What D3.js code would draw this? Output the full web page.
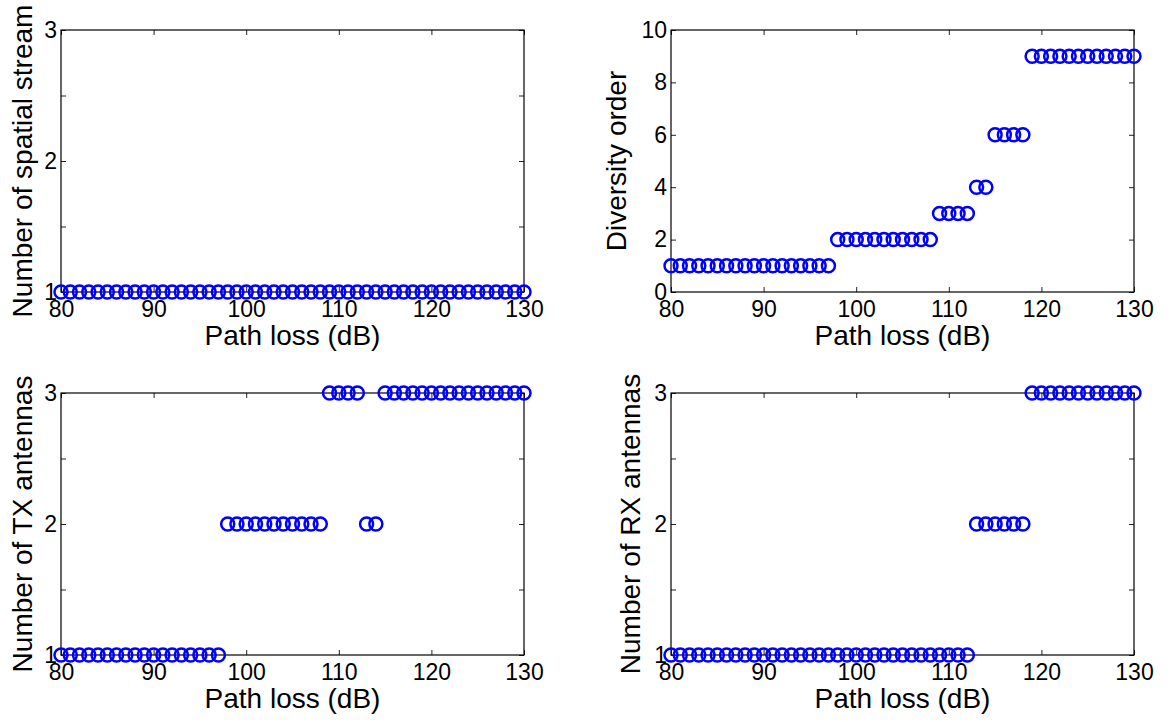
<!DOCTYPE html>
<html>
<head>
<meta charset="utf-8">
<script src="https://cdn.jsdelivr.net/npm/d3@7"></script>
<style>
  body { margin: 0; background: #fff; overflow: hidden; }
  text { font-family: "Liberation Sans", Arial, Helvetica, sans-serif; fill: #000; }
</style>
</head>
<body>
<script>
// path loss values (dB), one sample per dB
const pathLoss = [80, 81, 82, 83, 84, 85, 86, 87, 88, 89,
  90, 91, 92, 93, 94, 95, 96, 97, 98, 99,
  100, 101, 102, 103, 104, 105, 106, 107, 108, 109,
  110, 111, 112, 113, 114, 115, 116, 117, 118, 119,
  120, 121, 122, 123, 124, 125, 126, 127, 128, 129, 130];

const spatialStreams = [1, 1, 1, 1, 1, 1, 1, 1, 1, 1,
  1, 1, 1, 1, 1, 1, 1, 1, 1, 1,
  1, 1, 1, 1, 1, 1, 1, 1, 1, 1,
  1, 1, 1, 1, 1, 1, 1, 1, 1, 1,
  1, 1, 1, 1, 1, 1, 1, 1, 1, 1, 1];

const diversityOrder = [1, 1, 1, 1, 1, 1, 1, 1, 1, 1,
  1, 1, 1, 1, 1, 1, 1, 1, 2, 2,
  2, 2, 2, 2, 2, 2, 2, 2, 2, 3,
  3, 3, 3, 4, 4, 6, 6, 6, 6, 9,
  9, 9, 9, 9, 9, 9, 9, 9, 9, 9, 9];

const txAntennas = [1, 1, 1, 1, 1, 1, 1, 1, 1, 1,
  1, 1, 1, 1, 1, 1, 1, 1, 2, 2,
  2, 2, 2, 2, 2, 2, 2, 2, 2, 3,
  3, 3, 3, 2, 2, 3, 3, 3, 3, 3,
  3, 3, 3, 3, 3, 3, 3, 3, 3, 3, 3];

const rxAntennas = [1, 1, 1, 1, 1, 1, 1, 1, 1, 1,
  1, 1, 1, 1, 1, 1, 1, 1, 1, 1,
  1, 1, 1, 1, 1, 1, 1, 1, 1, 1,
  1, 1, 1, 2, 2, 2, 2, 2, 2, 3,
  3, 3, 3, 3, 3, 3, 3, 3, 3, 3, 3];

// tick values
const xTicks = [80, 90, 100, 110, 120, 130];
const countTicks = [1, 1.5, 2, 2.5, 3];
const diversityTicks = [0, 2, 4, 6, 8, 10];

const xLabel = "Path loss (dB)";

const width = 1175, height = 722;
const svg = d3.select("body").append("svg")
  .attr("width", width)
  .attr("height", height);

const panelW = 463, panelH = 262;
const tickFont = 23, labelFont = 28;

function drawPanel(left, top, values, yDomain, yTicks, yLabel, labelGap) {
  const g = svg.append("g").attr("transform", `translate(${left},${top})`);

  const x = d3.scaleLinear().domain([80, 130]).range([0, panelW]);
  const y = d3.scaleLinear().domain(yDomain).range([panelH, 0]);

  const fmt = d => Number.isInteger(d) ? d : "";

  // axes with inward ticks, mirrored on top/right
  g.append("g").attr("transform", `translate(0,${panelH})`)
    .call(d3.axisBottom(x).tickValues(xTicks).tickSizeInner(-5).tickSizeOuter(0).tickPadding(9));
  g.append("g")
    .call(d3.axisTop(x).tickValues(xTicks).tickSizeInner(-5).tickSizeOuter(0).tickFormat(""));
  g.append("g")
    .call(d3.axisLeft(y).tickValues(yTicks).tickSizeInner(-5).tickSizeOuter(0).tickPadding(4).tickFormat(fmt));
  g.append("g").attr("transform", `translate(${panelW},0)`)
    .call(d3.axisRight(y).tickValues(yTicks).tickSizeInner(-5).tickSizeOuter(0).tickFormat(""));

  g.selectAll(".domain").remove();
  g.selectAll(".tick line").attr("stroke", "#222");
  g.selectAll(".tick text")
    .attr("font-size", tickFont)
    .style("font-size", tickFont + "px")
    .style("font-family", '"Liberation Sans", Arial, sans-serif');

  g.append("rect")
    .attr("width", panelW)
    .attr("height", panelH)
    .attr("fill", "none")
    .attr("stroke", "#000")
    .attr("stroke-width", 1.2);

  // markers (not clipped, they spill over the box edges)
  g.append("g").selectAll("circle")
    .data(values)
    .join("circle")
    .attr("cx", (d, i) => x(pathLoss[i]))
    .attr("cy", d => y(d))
    .attr("r", 6.5)
    .attr("fill", "none")
    .attr("stroke", "#0000ff")
    .attr("stroke-width", 2.5);

  g.append("text")
    .attr("x", panelW / 2)
    .attr("y", panelH + 53)
    .attr("text-anchor", "middle")
    .style("font-size", labelFont + "px")
    .text(xLabel);

  g.append("text")
    .attr("transform", `translate(${-labelGap},${panelH / 2}) rotate(-90)`)
    .attr("text-anchor", "middle")
    .style("font-size", labelFont + "px")
    .text(yLabel);
}

drawPanel(61, 30, spatialStreams, [1, 3], countTicks, "Number of spatial stream", 29);
drawPanel(671, 30, diversityOrder, [0, 10], diversityTicks, "Diversity order", 45);
drawPanel(61, 393, txAntennas, [1, 3], countTicks, "Number of TX antennas", 29);
drawPanel(671, 393, rxAntennas, [1, 3], countTicks, "Number of RX antennas", 31);
</script>
</body>
</html>
